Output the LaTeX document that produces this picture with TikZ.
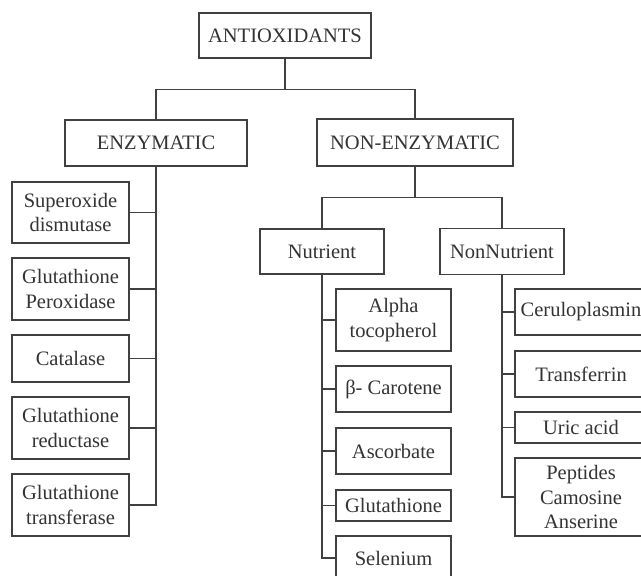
\documentclass[tikz,border=0pt]{standalone}
\usepackage{fontspec}
\setmainfont{Liberation Serif}
\begin{document}
\begin{tikzpicture}[x=1pt, y=-1pt,
    box/.style={draw=black!75, line width=1.3pt, rectangle, inner sep=0pt, align=center,
        text=black!80, font=\fontsize{20.5}{24.5}\selectfont},
    link/.style={draw=black!75, line width=1.3pt}]
    \useasboundingbox (0,0) rectangle (641,576);

    % Root and the two main classes
    \node[box, minimum width=172, minimum height=45] (ant) at (285,35.5) {ANTIOXIDANTS};
    \node[box, minimum width=182, minimum height=46] (enz) at (156,143) {ENZYMATIC};
    \node[box, minimum width=196, minimum height=47] (nonenz) at (415,142.5) {NON-ENZYMATIC};
    \draw[link] (ant.south) -- ++(0,31) coordinate (asplit);
    \draw[link] (asplit) -| (enz.north);
    \draw[link] (asplit) -| (nonenz.north);

    % Enzymatic antioxidants
    \foreach \n/\y/\h/\txt in {sod/212.5/61/{Superoxide\\dismutase}, gpx/289/62/{Glutathione\\Peroxidase},
        cat/358.5/47/{Catalase}, gred/428/62/{Glutathione\\reductase}, gst/505/62/{Glutathione\\transferase}} {
        \node[box, minimum width=117, minimum height=\h] (\n) at (70.5,\y) {\txt};
        \draw[link] (enz.south) |- (\n.east);
    }

    % Non-enzymatic split
    \node[box, minimum width=124, minimum height=45] (nut) at (322,251.5) {Nutrient};
    \node[box, minimum width=124, minimum height=46] (nonnut) at (502,251.5) {NonNutrient};
    \draw[link] (nonenz.south) -- ++(0,31) coordinate (nsplit);
    \draw[link] (nsplit) -| (nut.north);
    \draw[link] (nsplit) -| (nonnut.north);

    % Nutrient antioxidants
    \foreach \n/\y/\h/\txt in {toc/320/62/{Alpha\\tocopherol}, car/389/46/{β- Carotene},
        asc/451/46/{Ascorbate}, glu/505.5/31/{Glutathione}, sel/558/44/{Selenium}} {
        \node[box, minimum width=115, minimum height=\h] (\n) at (393.5,\y) {\txt};
        \draw[link] (nut.south) |- (\n.west);
    }

    % Non-nutrient antioxidants
    \foreach \n/\y/\h/\txt in {cer/312/46/{Ceruloplasmin}, tra/374/46/{Transferrin},
        uric/427.5/31/{Uric acid}, pep/497/78/{Peptides\\Camosine\\Anserine}} {
        \node[box, minimum width=132, minimum height=\h] (\n) at (581,\y) {\txt};
        \draw[link] (nonnut.south) |- (\n.west);
    }
\end{tikzpicture}
\end{document}
